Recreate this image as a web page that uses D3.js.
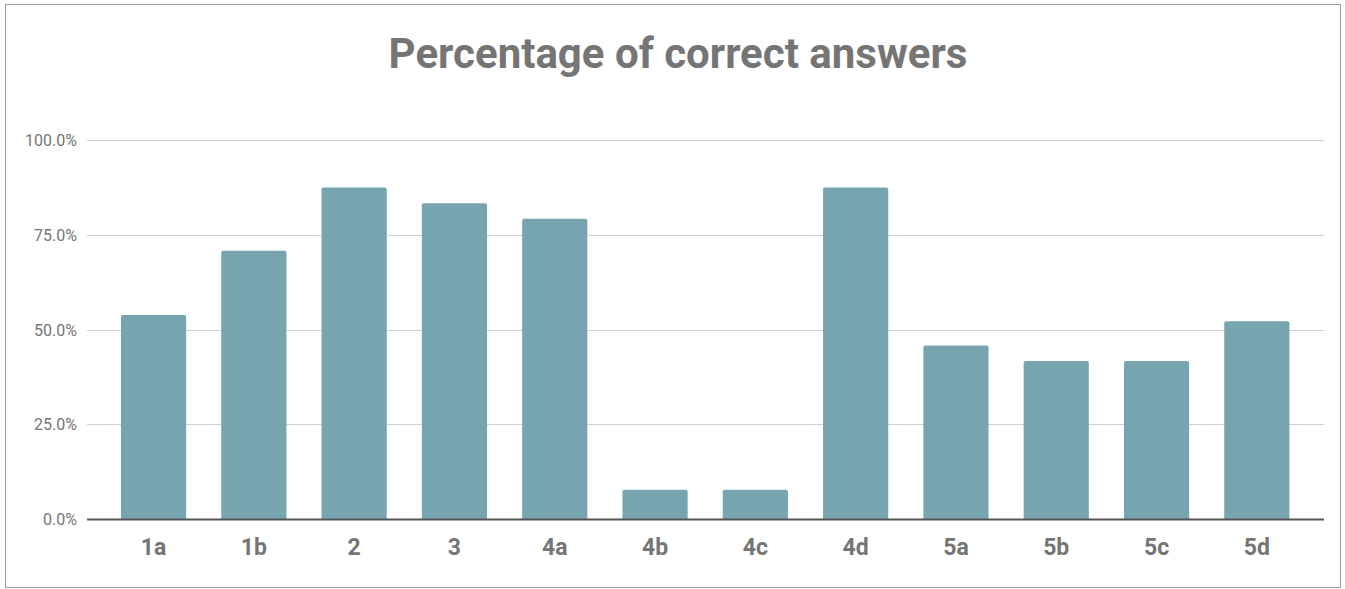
<!DOCTYPE html>
<html lang="en">
<head>
<meta charset="utf-8">
<title>Percentage of correct answers</title>
<script src="https://cdn.jsdelivr.net/npm/d3@7"></script>
<style>
  body { margin: 0; background: #fff; }
  svg { display: block; font-family: Roboto, "Noto Sans", sans-serif; }
</style>
</head>
<body>
<script>
// data
var questions = ["1a", "1b", "2", "3", "4a", "4b", "4c", "4d", "5a", "5b", "5c", "5d"];
var percentCorrect = [53.8, 70.8, 87.5, 83.3, 79.2, 7.7, 7.7, 87.5, 45.8, 41.7, 41.7, 52.2];
var yTicks = [0, 25, 50, 75, 100];

var w = 1345, h = 589;
var gridLeft = 87, gridRight = 1324;
var plotTop = 140, plotBottom = 519;

var svg = d3.select("body").append("svg")
  .attr("width", w)
  .attr("height", h);

// outer frame
svg.append("rect")
  .attr("x", 5.5).attr("y", 4.5)
  .attr("width", 1335).attr("height", 583)
  .attr("fill", "#fff")
  .attr("stroke", "#9e9e9e")
  .attr("stroke-width", 1);

svg.append("text")
  .attr("x", 678).attr("y", 68)
  .attr("text-anchor", "middle")
  .attr("font-size", 42)
  .attr("font-weight", "bold")
  .attr("fill", "#757575")
  .text("Percentage of correct answers");

var x = d3.scaleBand()
  .domain(questions)
  .range([103.4, 1307])
  .paddingInner(0.35)
  .paddingOuter(0.175);

var y = d3.scaleLinear()
  .domain([0, 100])
  .range([plotBottom, plotTop]);

// gridlines
svg.append("g")
  .selectAll("line")
  .data(yTicks.filter(function(d) { return d > 0; }))
  .enter().append("line")
  .attr("x1", gridLeft).attr("x2", gridRight)
  .attr("y1", function(d) { return Math.round(y(d)) + 0.5; })
  .attr("y2", function(d) { return Math.round(y(d)) + 0.5; })
  .attr("stroke", "#d0d0d0")
  .attr("stroke-width", 1);

// y tick labels
svg.append("g")
  .selectAll("text")
  .data(yTicks)
  .enter().append("text")
  .attr("x", 77)
  .attr("y", function(d) { return y(d) + 6; })
  .attr("text-anchor", "end")
  .attr("font-size", 16)
  .attr("fill", "#757575")
  .text(function(d) { return d3.format(".1f")(d) + "%"; });

// bars
var barData = questions.map(function(q, i) { return { q: q, v: percentCorrect[i] }; });

svg.append("g")
  .selectAll("path")
  .data(barData)
  .enter().append("path")
  .attr("fill", "#76a5af")
  .attr("d", function(d) {
    var x0 = x(d.q), bw = x.bandwidth(), y0 = y(d.v), r = 2;
    return "M" + x0 + "," + plotBottom +
      "V" + (y0 + r) +
      "Q" + x0 + "," + y0 + " " + (x0 + r) + "," + y0 +
      "H" + (x0 + bw - r) +
      "Q" + (x0 + bw) + "," + y0 + " " + (x0 + bw) + "," + (y0 + r) +
      "V" + plotBottom + "Z";
  });

// baseline
svg.append("line")
  .attr("x1", gridLeft).attr("x2", gridRight)
  .attr("y1", plotBottom + 0.5).attr("y2", plotBottom + 0.5)
  .attr("stroke", "#555")
  .attr("stroke-width", 2);

// x labels
svg.append("g")
  .selectAll("text")
  .data(questions)
  .enter().append("text")
  .attr("x", function(d) { return x(d) + x.bandwidth() / 2; })
  .attr("y", 555)
  .attr("text-anchor", "middle")
  .attr("font-size", 23)
  .attr("font-weight", "bold")
  .attr("fill", "#757575")
  .text(function(d) { return d; });
</script>
</body>
</html>
